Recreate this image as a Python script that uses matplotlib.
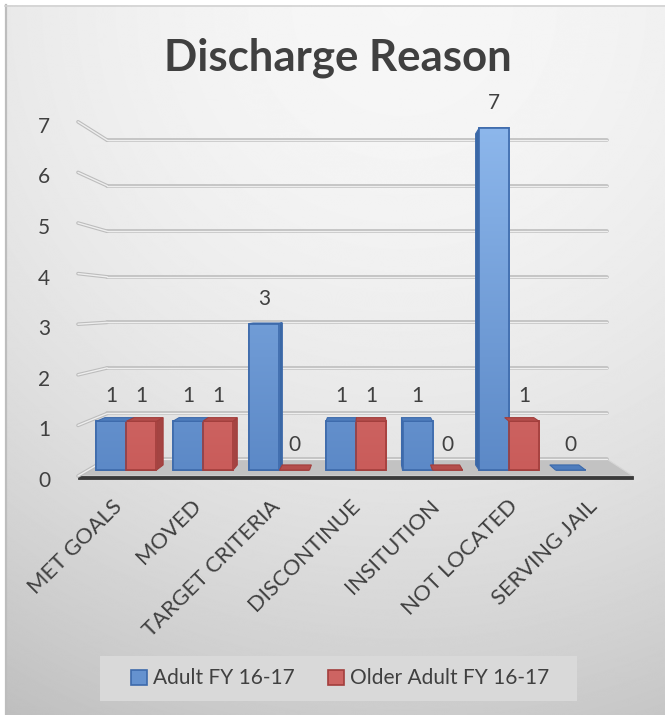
import numpy as np
import matplotlib
matplotlib.use("Agg")
import matplotlib.pyplot as plt
from matplotlib.patches import Polygon, Rectangle, Patch
from matplotlib.colors import LinearSegmentedColormap
from matplotlib.transforms import Affine2D, ScaledTranslation

plt.rcParams['font.family'] = ['Lato', 'DejaVu Sans']

categories = ["MET GOALS", "MOVED", "TARGET CRITERIA", "DISCONTINUE",
              "INSITUTION", "NOT LOCATED", "SERVING JAIL"]
adult = [1, 1, 3, 1, 1, 7, 0]
older_adult = [1, 1, 0, 1, 0, 1, np.nan]
series_names = ["Adult FY 16-17", "Older Adult FY 16-17"]
y_ticks = [0, 1, 2, 3, 4, 5, 6, 7]

W, H, DPI = 665, 715, 100
TXT = '#404040'

fig = plt.figure(figsize=(W / DPI, H / DPI), dpi=DPI)

# background panel with a soft radial shade
bg = fig.add_axes([0, 0, 1, 1], zorder=-5)
bg.set_xlim(0, W)
bg.set_ylim(H, 0)
bg.axis('off')
yy, xx = np.mgrid[0:H, 0:W]
r2 = (xx - 400.0) ** 2 + (yy - 0.0) ** 2
shade = np.clip(0.965 - 3.27e-7 * r2, 0, 1)
bg.imshow(shade, cmap='gray', vmin=0, vmax=1, extent=(5, W, H, 5),
          interpolation='bilinear', aspect='auto')
bg.plot([5.5, 5.5], [5, H], color='#bdbdbd', lw=1.6)
bg.plot([5, W], [5.5, 5.5], color='#d2d2d2', lw=1.2)

# plot box: x in category units, y in value units on the front plane
left_px, right_px, base_px, unit_px = 78, 633, 476, 50.6
ymax = 7.5
ax = fig.add_axes([left_px / W, (H - base_px) / H, (right_px - left_px) / W,
                   ymax * unit_px / H])
ax.set_xlim(0, len(categories))
ax.set_ylim(0, ymax)
ax.patch.set_alpha(0)
for s in ax.spines.values():
    s.set_visible(False)

# vanishing point (data coords) and depth scaling
xv = (370 - left_px) / ((right_px - left_px) / len(categories))
vv = (base_px - 306) / unit_px


def scale(d):
    return 1 - 0.1 * d


def proj(x, v, d):
    s = scale(d)
    return xv + (x - xv) * s, vv + (v - vv) * s


def plane(d):
    s = scale(d)
    return Affine2D().translate(-xv, -vv).scale(s).translate(xv, vv) + ax.transData


n = len(categories)

# floor
floor = [proj(0, 0, 0), proj(n, 0, 0), proj(n, 0, 1), proj(0, 0, 1)]
ax.add_patch(Polygon(floor, closed=True, facecolor='#c2c2c2', edgecolor='#d6d6d6',
                     lw=0.8, zorder=1))
thick = 3 / unit_px
ax.add_patch(Polygon([proj(0, 0, 0), proj(n, 0, 0), proj(n, -thick, 0), proj(0, -thick, 0)],
                     closed=True, facecolor='#3a3a3a', edgecolor='#3a3a3a', lw=0.6,
                     zorder=1.2, clip_on=False))

# gridlines: back wall and slanted left wall
for v in y_ticks:
    xs_b, ys_b = [0, n], [v, v]
    pts = [proj(0, v, 0), proj(0, v, 1)]
    for lw, col in ((2.6, '#bdbdbd'), (1.0, '#eeeeee')):
        ax.plot(xs_b, ys_b, color=col, lw=lw, transform=plane(1.0),
                solid_capstyle='round', zorder=1.5 if v else 1.1)
        ax.plot([p[0] for p in pts], [p[1] for p in pts], color=col, lw=lw,
                solid_capstyle='round', zorder=1.5, clip_on=False)

# 3-d columns
D0, D1 = 0.35, 0.65
bw = 30 / (79.2857 * scale(D0))
styles = [
    dict(face='#6592cf', lo='#5c89c7', hi='#90baee', edge='#3d6aab',
         side='#3b68a5', top='#4f7dbd'),
    dict(face='#cd6462', lo='#c95c5a', hi='#e58a88', edge='#a23e3c',
         side='#a44442', top='#b44e4c'),
]
lab_off = ScaledTranslation(0, 19 / DPI, fig.dpi_scale_trans)
ramp = np.linspace(0, 1, 256).reshape(-1, 1)

for k, vals in enumerate([adult, older_adult]):
    st = styles[k]
    cmap = LinearSegmentedColormap.from_list(f"s{k}", [st['lo'], st['hi']])
    x0s = np.arange(n) + 0.5 - bw + k * bw
    keep = [i for i in range(n) if not np.isnan(vals[i])]
    bars = ax.bar(x0s[keep], [vals[i] for i in keep], width=bw, align='edge',
                  color=st['face'], edgecolor=st['edge'], lw=1.2,
                  transform=plane(D0), zorder=3, clip_on=False)
    for i, bar in zip(keep, bars):
        v = vals[i]
        x0, x1 = x0s[i], x0s[i] + bw
        fx0, fy0 = proj(x0, 0, D0)
        fx1, fy1 = proj(x1, v, D0)
        if v > 0:
            # shade the front face lighter toward the top of the value range
            top_frac = v / ymax
            im = ax.imshow(ramp * top_frac, cmap=cmap, vmin=0, vmax=1, origin='lower',
                           extent=(fx0, fx1, fy0, fy1), aspect='auto', zorder=3.1,
                           interpolation='bilinear')
            im.set_clip_path(bar)
            ax.add_patch(Rectangle((fx0, fy0), fx1 - fx0, fy1 - fy0, facecolor='none',
                                   edgecolor=st['edge'], lw=1.2, zorder=3.2))
        if fx1 < xv:
            side = [proj(x1, 0, D0), proj(x1, 0, D1), proj(x1, v, D1), proj(x1, v, D0)]
        elif fx0 > xv:
            side = [proj(x0, 0, D0), proj(x0, 0, D1), proj(x0, v, D1), proj(x0, v, D0)]
        else:
            side = None
        if side is not None and v > 0:
            ax.add_patch(Polygon(side, closed=True, facecolor=st['side'],
                                 edgecolor=st['edge'], lw=0.8, zorder=2))
        if v < vv:
            top = [proj(x0, v, D0), proj(x1, v, D0), proj(x1, v, D1), proj(x0, v, D1)]
            ax.add_patch(Polygon(top, closed=True, facecolor=st['top'],
                                 edgecolor=st['edge'], lw=0.8, zorder=3.5))
        cx, cy = proj(x0 + bw / 2, v, D0)
        ax.text(cx, cy, f"{v:g}", ha='center', va='baseline', fontsize=15,
                color=TXT, transform=ax.transData + lab_off, zorder=5)

ax.set_xlim(0, n)
ax.set_ylim(0, ymax)

# axis labels
ax.set_xticks([])
ax.set_yticks(y_ticks)
ax.set_yticklabels([str(t) for t in y_ticks], fontsize=15, color=TXT)
ax.tick_params(axis='y', length=0, pad=20)
for lbl in ax.get_yticklabels():
    lbl.set_transform(lbl.get_transform() + ScaledTranslation(0, -3 / DPI, fig.dpi_scale_trans))

cat_off = ScaledTranslation(-6 / DPI, -20 / DPI, fig.dpi_scale_trans)
for i, name in enumerate(categories):
    ax.text(i + 0.5, 0, name, rotation=45, ha='right', va='top',
            rotation_mode='anchor', fontsize=15.8, color=TXT,
            transform=ax.transData + cat_off, clip_on=False)

fig.text(337.5 / W, 1 - 58 / H, "Discharge Reason", ha='center', va='center',
         fontsize=31.5, fontweight='bold', color=TXT)

# legend
fig.add_artist(Rectangle((100 / W, 1 - 701 / H), 477 / W, 45 / H,
                         transform=fig.transFigure, facecolor='#d9d9d9',
                         edgecolor='none', zorder=2))
handles = [Patch(facecolor=st['face'], edgecolor=st['edge'], lw=1.2) for st in styles]
fig.legend(handles, series_names, loc='center', bbox_to_anchor=(340 / W, 1 - 678.5 / H),
           ncol=2, frameon=False, fontsize=15, handlelength=0.75, handleheight=0.75,
           handletextpad=0.3, columnspacing=1.6, labelcolor=TXT)

fig.savefig("out.png", dpi=DPI)
